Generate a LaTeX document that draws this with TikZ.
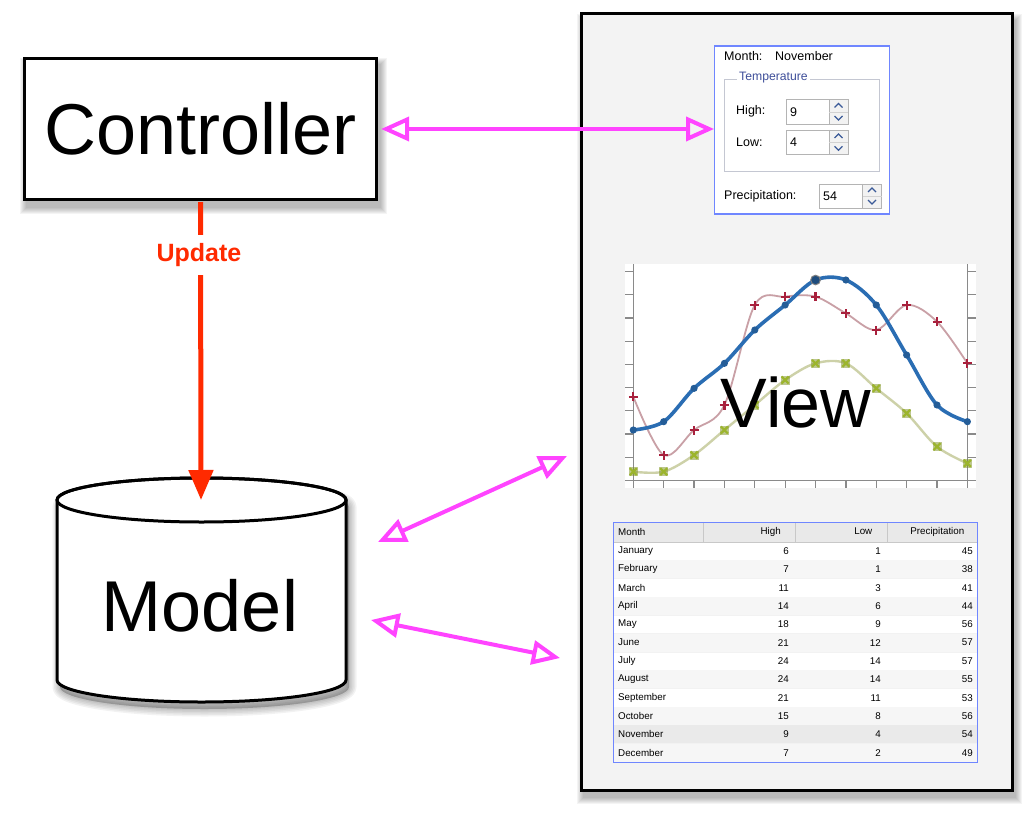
\documentclass[tikz,border=0pt]{standalone}
\usepackage{fontspec}
\setmainfont{Liberation Sans}
\usetikzlibrary{arrows.meta}
\definecolor{magc}{HTML}{FF44FF}
\definecolor{updc}{HTML}{FF2A00}
\definecolor{frmc}{HTML}{6F86FF}
\definecolor{panelc}{HTML}{F3F3F3}
\definecolor{grpc}{HTML}{C4C7D2}
\definecolor{tempc}{HTML}{3F4F9A}
\definecolor{spinc}{HTML}{B4B4B4}
\definecolor{chevc}{HTML}{3A5A98}
\definecolor{axisc}{HTML}{8A8A8A}
\definecolor{hic}{HTML}{2A6DB3}
\definecolor{prl}{HTML}{C9A0A6}
\definecolor{prm}{HTML}{A8203C}
\definecolor{lol}{HTML}{CDD1A8}
\definecolor{lom}{HTML}{9CB52C}
\definecolor{rowc}{HTML}{F6F6F6}
\definecolor{selc}{HTML}{EAEAEA}
\definecolor{hdrc}{HTML}{E9E9E9}
\definecolor{sepc}{HTML}{C8C8C8}
\newcommand\tblfont{\fontsize{9.8}{11}\selectfont}
\newcommand\frmfont{\fontsize{12.5}{14}\selectfont}
\newcommand\softshadow[4]{%
  \foreach \k in {1,...,7}{\fill[black,opacity=0.045] ({#1-\k+3},{#2-\k+7}) rectangle ({#3+\k+3},{#4+\k+7});}}
\newcommand\spinbox[6]{%
  \fill[white] (#2,#3) rectangle (#4,#5);
  \fill[hdrc!60] ({#4-19},#3) rectangle (#4,#5);
  \draw[spinc] (#2,#3) rectangle (#4,#5);
  \draw[spinc] ({#4-19},#3) -- ({#4-19},#5);
  \draw[spinc!60] ({#4-19},{(#3+#5)/2}) -- (#4,{(#3+#5)/2});
  \draw[chevc, line width=1.3] ({#4-13.5},{#3+8}) -- ({#4-9.5},{#3+4}) -- ({#4-5.5},{#3+8});
  \draw[chevc, line width=1.3] ({#4-13.5},{#5-8}) -- ({#4-9.5},{#5-4}) -- ({#4-5.5},{#5-8});
  \node[anchor=west, font=\frmfont, inner sep=0] (#1) at ({#2+4},{(#3+#5)/2}) {#6};}
\begin{document}
\begin{tikzpicture}[x=1pt,y=-1pt,
  magarrow/.style={draw=magc, line width=4,
    {Triangle[open,length=28pt,width=24pt]}-{Triangle[open,length=28pt,width=24pt]}},
  big/.style={font=\fontsize{72}{72}\selectfont},
  frmtxt/.style={font=\frmfont, inner sep=0, anchor=west}]
\useasboundingbox (0,0) rectangle (1032,818);

% ---------- View panel ----------
\softshadow{581}{14}{1012}{790}
\node[draw=black, line width=3, fill=panelc, minimum width=431, minimum height=776, inner sep=0] (view) at (796.5,402) {};

% ---------- Form ----------
\node[draw=frmc, line width=1.3, fill=white, minimum width=174.6, minimum height=168, inner sep=0] (form) at (802,130) {};
\node[frmtxt] (monthlbl) at (724,56) {Month:};
\node[frmtxt] (monthval) at (775,56) {November};
\draw[grpc] (724,79) rectangle (879,171.7);
\node[font=\fontsize{12.2}{14}\selectfont, text=tempc, fill=white, inner xsep=2, inner ysep=1, anchor=west] (templbl) at (737,78) {Temperature};
\node[frmtxt] (highlbl) at (736,111.5) {High:};
\spinbox{highval}{786}{99.5}{848}{124}{9}
\node[frmtxt] (lowlbl) at (736,142) {Low:};
\spinbox{lowval}{786}{130}{848}{154.3}{4}
\node[frmtxt] (preclbl) at (724,196) {Precipitation:};
\spinbox{precval}{819}{184}{881.5}{208}{54}

% ---------- Chart ----------
\fill[white] (625,264) rectangle (976,488);
\draw[axisc, line width=1.2] (633.3,264) -- (633.3,487);
\draw[axisc, line width=1.2] (967.3,264) -- (967.3,487);
\draw[axisc, line width=1.2] (625,480.3) -- (976,480.3);
\foreach \k in {1,...,9}{
  \draw[axisc, line width=1.2] (625,{480.3-23.18*\k}) -- (633.3,{480.3-23.18*\k});
  \draw[axisc, line width=1.2] (967.3,{480.3-23.18*\k}) -- (975.5,{480.3-23.18*\k});
}
\foreach \i in {0,...,11}{
  \draw[axisc, line width=1.2] ({633.3+30.37*\i},480.3) -- ({633.3+30.37*\i},487.5);
}
\begin{scope}[shift={(633.3,480)}, x=30.37pt, y=8.333pt]
  \draw[lol, line width=2.4] plot[smooth, tension=0.55] coordinates {(0,1)(1,1)(2,3)(3,6)(4,9)(5,12)(6,14)(7,14)(8,11)(9,8)(10,4)(11,2)};
  \draw[prl, line width=1.8] plot[smooth, tension=0.55] coordinates {(0,10)(1,3)(2,6)(3,9)(4,21)(5,22)(6,22)(7,20)(8,18)(9,21)(10,19)(11,14)};
  \draw[hic, line width=3.6] plot[smooth, tension=0.55] coordinates {(0,6)(1,7)(2,11)(3,14)(4,18)(5,21)(6,24)(7,24)(8,21)(9,15)(10,9)(11,7)};
  \foreach \x/\v in {0/1,1/1,2/3,3/6,4/9,5/12,6/14,7/14,8/11,9/8,10/4,11/2}{
    \fill[lom!80!black, opacity=0.5] (\x,\v) ++(-4.5pt,-4.5pt) rectangle ++(9pt,9pt);
    \draw[lom, line width=2.2] (\x,\v) ++(-3.5pt,-3.5pt) -- ++(7pt,7pt) (\x,\v) ++(-3.5pt,3.5pt) -- ++(7pt,-7pt);
  }
  \foreach \x/\v in {0/10,1/3,2/6,3/9,4/21,5/22,6/22,7/20,8/18,9/21,10/19,11/14}{
    \draw[prm, line width=2.2] (\x,\v) ++(-4.5pt,0) -- ++(9pt,0) (\x,\v) ++(0,-4.5pt) -- ++(0,9pt);
  }
  \foreach \x/\v in {0/6,1/7,2/11,3/14,4/18,5/21,7/24,8/21,9/15,10/9,11/7}{
    \fill[hic!85!black] (\x,\v) circle (3.6pt);
  }
  \filldraw[fill=hic!70!black, draw=gray, line width=1] (6,24) circle (4.8pt);
\end{scope}
\node[big, font=\fontsize{70}{70}\selectfont, inner sep=0] (viewlbl) at (796,402) {View};

% ---------- Table ----------
\node[draw=frmc, line width=1.3, fill=white, minimum width=364.4, minimum height=240.4, inner sep=0] (table) at (795.5,642.5) {};
\fill[hdrc] (614,523) rectangle (977,541.7);
\foreach \sx in {703.5,795,887}{\draw[sepc] (\sx,523) -- (\sx,541.7);}
\draw[sepc] (614,541.7) -- (977,541.7);
\node[anchor=west, font=\tblfont, inner sep=0] (hmonth) at (618,531.5) {Month};
\node[anchor=east, font=\tblfont, inner sep=0] (hhigh) at (781,531.5) {High};
\node[anchor=east, font=\tblfont, inner sep=0] (hlow) at (872.5,531.5) {Low};
\node[anchor=east, font=\tblfont, inner sep=0] (hprec) at (964.5,531.5) {Precipitation};
\foreach \m/\h/\l/\p [count=\i from 0] in {January/6/1/45,February/7/1/38,March/11/3/41,April/14/6/44,May/18/9/56,June/21/12/57,July/24/14/57,August/24/14/55,September/21/11/53,October/15/8/56,November/9/4/54,December/7/2/49}{
  \pgfmathsetmacro\ry{551+18.33*\i}
  \pgfmathsetmacro\rt{541.9+18.33*\i}
  \ifnum\i=10 \fill[selc] (614,\rt) rectangle (977,{\rt+18.33});
  \else\ifodd\i \fill[rowc] (614,\rt) rectangle (977,{\rt+18.33});\fi\fi
  \draw[hdrc!60] (614,{\rt+18.33}) -- (977,{\rt+18.33});
  \node[anchor=west, font=\tblfont, inner sep=0] (m\i) at (618,\ry) {\m};
  \node[anchor=east, font=\tblfont, inner sep=0] (h\i) at (789,\ry) {\h};
  \node[anchor=east, font=\tblfont, inner sep=0] (l\i) at (881,\ry) {\l};
  \node[anchor=east, font=\tblfont, inner sep=0] (p\i) at (973,\ry) {\p};
}
\draw[frmc, line width=1.3] (613.3,522.3) rectangle (977.7,762.7);

% ---------- Controller ----------
\softshadow{24}{58}{377}{200}
\node[draw=black, line width=3.2, fill=white, minimum width=352, minimum height=141, inner sep=0, big] (ctrl) at (200.5,129) {Controller};

% ---------- Model ----------
\begin{scope}[shift={(3,7)}]
  \foreach \k in {3,6,9,12,15}{
    \filldraw[black, opacity=0.05, line width=\k, line join=round] (57,500) -- (57,680) arc[start angle=180,end angle=0,x radius=144.5,y radius=22] -- (346,500) arc[start angle=0,end angle=-180,x radius=144.5,y radius=22] -- cycle;
  }
\end{scope}
\filldraw[fill=white, draw=black, line width=3, line join=round] (57,500) -- (57,680) arc[start angle=180,end angle=0,x radius=144.5,y radius=22] -- (346,500) arc[start angle=0,end angle=-180,x radius=144.5,y radius=22] -- cycle;
\draw[black, line width=3] (201.5,500) ellipse [x radius=144.5, y radius=22];
\node[big, inner sep=0] (model) at (200,606) {Model};

% ---------- Connectors ----------
\coordinate (modeltop) at (201,500);
\draw[updc, line width=5, -{Triangle[length=30pt,width=24pt]}] ([yshift=-1]ctrl.south) -- (modeltop);
\node[fill=white, text=updc, font=\bfseries\fontsize{25}{25}\selectfont, inner xsep=3, inner ysep=8] (upd) at (199,255) {Update};

\coordinate (mA) at (378,542);
\coordinate (vA) at (567,456);
\coordinate (mB) at (371,620);
\coordinate (vB) at (560,658);
\draw[magarrow] ([xshift=3]ctrl.east) -- (ctrl.east -| form.west);
\draw[magarrow] (mA) -- (vA);
\draw[magarrow] (mB) -- (vB);
\end{tikzpicture}
\end{document}
